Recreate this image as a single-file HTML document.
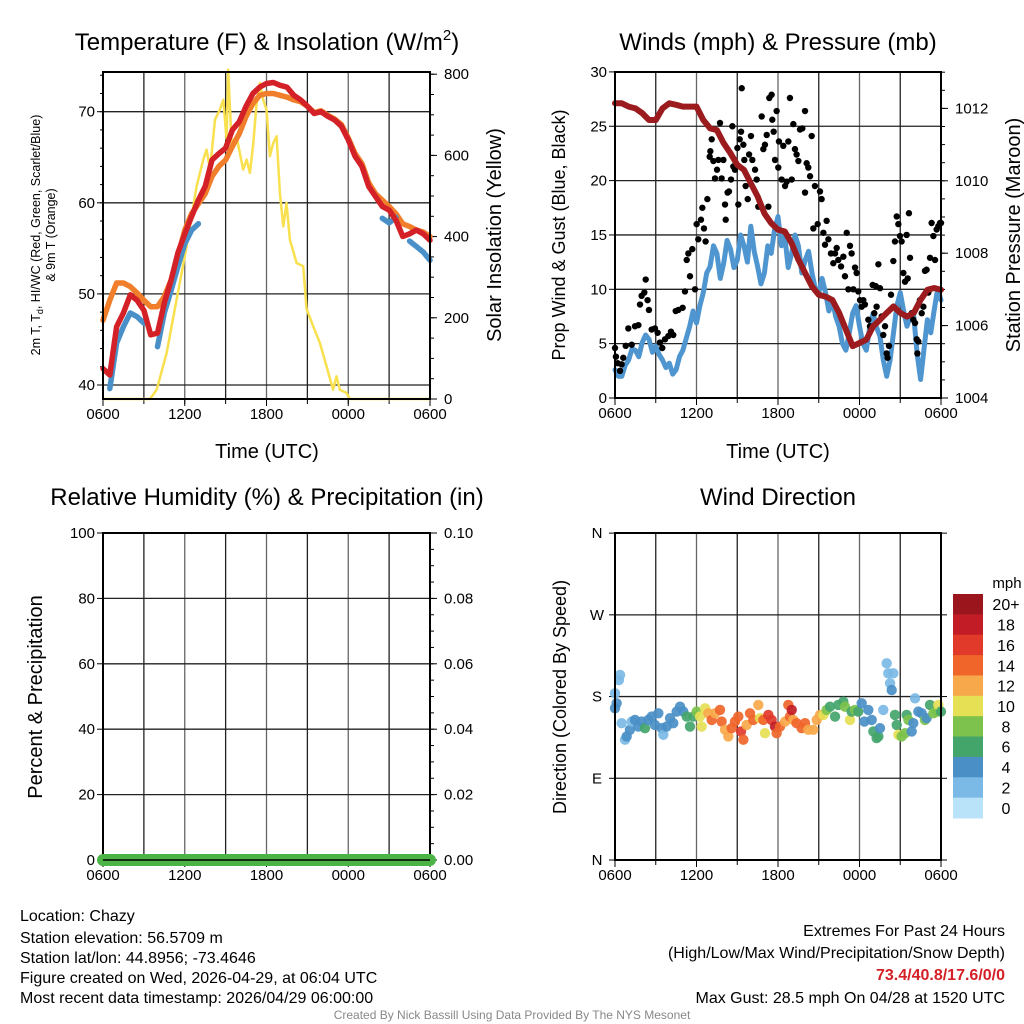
<!DOCTYPE html>
<html><head><meta charset="utf-8"><style>
html,body{margin:0;padding:0;background:#fff}
svg{display:block;font-family:"Liberation Sans",sans-serif}
</style></head><body>
<svg id="fig" width="1024" height="1024" viewBox="0 0 1024 1024" xmlns="http://www.w3.org/2000/svg">
<g font-size="24" text-anchor="middle" fill="#000">
<text x="267" y="50">Temperature (F) &amp; Insolation (W/m<tspan font-size="15" dy="-10">2</tspan><tspan dy="10">)</tspan></text>
<text x="778" y="50">Winds (mph) &amp; Pressure (mb)</text>
<text x="267" y="505">Relative Humidity (%) &amp; Precipitation (in)</text>
<text x="778" y="505">Wind Direction</text>
</g>
<g font-size="20" text-anchor="middle">
<text x="267" y="458">Time (UTC)</text>
<text x="778" y="458">Time (UTC)</text>
<text transform="translate(501,235) rotate(-90)">Solar Insolation (Yellow)</text>
<text transform="translate(565,235) rotate(-90)" font-size="18">Prop Wind &amp; Gust (Blue, Black)</text>
<text transform="translate(1020,235) rotate(-90)">Station Pressure (Maroon)</text>
<text transform="translate(42,697) rotate(-90)">Percent &amp; Precipitation</text>
<text transform="translate(566,697) rotate(-90)" font-size="18">Direction (Colored By Speed)</text>
<text transform="translate(40,235) rotate(-90)" font-size="12.5">2m T, T<tspan font-size="9" dy="3">d</tspan><tspan dy="-3">, HI/WC (Red, Green, Scarlet/Blue)</tspan></text>
<text transform="translate(55,235) rotate(-90)" font-size="12.5">&amp; 9m T (Orange)</text>
</g>
<g id="layer"></g>
<g font-size="16" fill="#000">
<text x="20" y="921">Location: Chazy</text>
<text x="20" y="943">Station elevation: 56.5709 m</text>
<text x="20" y="963">Station lat/lon: 44.8956; -73.4646</text>
<text x="20" y="983">Figure created on Wed, 2026-04-29, at 06:04 UTC</text>
<text x="20" y="1003">Most recent data timestamp: 2026/04/29 06:00:00</text>
<g text-anchor="end">
<text x="1005" y="936">Extremes For Past 24 Hours</text>
<text x="1005" y="958">(High/Low/Max Wind/Precipitation/Snow Depth)</text>
<text x="1005" y="980" fill="#d42027" font-weight="bold">73.4/40.8/17.6/0/0</text>
<text x="1005" y="1003">Max Gust: 28.5 mph On 04/28 at 1520 UTC</text>
</g>
<text x="512" y="1019" text-anchor="middle" font-size="12" fill="#888">Created By Nick Bassill Using Data Provided By The NYS Mesonet</text>
</g>
</svg>
<script>
const halfHours=[0,0.5,1,1.5,2,2.5,3,3.5,4,4.5,5,5.5,6,6.5,7,7.5,8,8.5,9,9.5,10,10.5,11,11.5,12,12.5,13,13.5,14,14.5,15,15.5,16,16.5,17,17.5,18,18.5,19,19.5,20,20.5,21,21.5,22,22.5,23,23.5,24];
const temp2m=[41.8,41.1,46.4,47.9,49.9,49.3,48.2,45.5,45.7,49.0,51.5,54.5,56.6,58.5,60.3,61.8,64.7,65.4,66.0,68.0,68.9,70.6,72.0,72.7,73.1,73.2,72.9,72.7,71.8,71.3,70.6,69.8,70.0,69.5,69.1,68.4,66.9,65.1,64.0,61.8,60.7,59.6,59.2,58.1,56.3,56.6,57.0,56.6,55.9];
const temp9m=[47.1,49.3,51.2,51.2,50.8,50.1,49.3,48.6,48.6,49.7,51.5,54.1,57.0,58.8,59.9,61.0,62.9,64.0,64.7,66.2,67.6,69.5,70.9,71.8,72.0,72.0,71.8,71.6,71.3,71.1,70.6,69.9,70.1,69.6,69.2,68.6,67.1,65.4,64.3,62.2,61.0,60.3,59.6,58.8,57.7,57.4,57.0,56.8,56.3];
const windChill=[null,39.6,44.6,46.4,47.9,47.5,46.8,null,44.2,47.9,50.4,53.0,55.5,57.0,57.7,null,null,null,null,null,null,null,null,null,null,null,null,null,null,null,null,null,null,null,null,null,null,null,null,null,null,58.3,57.8,58.4,null,55.8,55.2,54.6,53.7];
const solarHours=[0,3.45,3.94,4.67,5.40,6.14,6.87,7.36,7.60,7.85,8.22,8.58,8.83,9.07,9.19,9.44,9.80,10.29,10.54,10.78,11.03,11.27,11.52,11.76,12.0,12.25,12.49,12.74,12.98,13.23,13.47,13.72,14.21,14.69,14.94,15.43,15.92,16.41,16.89,17.14,17.38,17.87,18.12,24];
const solar=[0,0,23,113,245,376,524,590,614,565,688,713,737,639,811,630,647,565,590,557,630,729,778,737,713,598,630,647,507,425,483,392,335,327,222,179,138,80,23,56,23,15,0,0];
const pressure=[1012.14,1012.14,1012.05,1012.0,1011.87,1011.68,1011.68,1012.0,1012.14,1012.1,1012.05,1012.05,1012.05,1011.68,1011.45,1011.4,1011.04,1010.76,1010.44,1010.3,1009.93,1009.57,1009.1,1008.83,1008.65,1008.6,1008.28,1007.82,1007.45,1007.08,1006.85,1006.8,1006.71,1006.35,1005.89,1005.43,1005.52,1005.61,1005.98,1006.16,1006.35,1006.53,1006.35,1006.25,1006.35,1006.71,1006.99,1007.04,1006.99];
const windSpeed=[2.6,2.0,2.0,3.0,3.5,4.5,4.4,3.8,5.1,5.8,5.4,4.2,4.8,4.0,3.5,2.8,3.2,2.2,2.6,3.8,4.4,5.5,6.6,8.0,6.9,8.5,9.7,11.5,12.1,14.0,13.3,11.0,12.4,14.5,13.7,12.0,12.7,15.0,14.0,12.5,15.8,13.5,12.1,10.5,11.5,14.0,13.3,15.5,16.7,14.0,14.9,12.0,13.3,15.0,14.0,11.5,12.7,13.5,11.5,10.0,9.7,11.0,9.7,8.0,9.0,7.5,6.6,5.0,4.4,6.0,7.8,8.5,6.6,5.0,4.4,6.5,7.8,6.5,5.7,3.5,2.0,3.5,6.0,8.5,9.7,8.0,6.6,7.5,7.5,4.0,1.7,4.5,7.2,6.0,8.1,10.0,9.0];
const gustHours=[0,0.07,0.2,0.37,0.49,0.61,0.79,0.98,1.23,1.47,1.72,1.84,1.96,2.16,2.26,2.4,2.5,2.7,2.94,3.14,3.31,3.48,3.68,3.93,4.12,4.29,4.47,4.66,4.98,5.15,5.28,5.4,5.52,5.69,5.89,6.01,6.13,6.33,6.43,6.55,6.67,6.8,6.97,7.02,7.12,7.24,7.36,7.51,7.61,7.73,7.85,7.98,8.1,8.15,8.29,8.39,8.54,8.64,8.71,8.83,9.01,9.08,9.18,9.28,9.33,9.45,9.52,9.62,9.77,9.87,10.01,10.11,10.31,10.43,10.55,10.8,10.92,11.04,11.17,11.29,11.36,11.53,11.58,11.68,11.78,11.9,12.02,12.07,12.27,12.39,12.52,12.64,12.76,12.88,13.01,13.13,13.25,13.37,13.5,13.62,13.79,13.99,13.99,14.11,14.23,14.36,14.48,14.6,14.72,14.92,15.09,15.21,15.34,15.46,15.58,15.71,15.9,16.07,16.2,16.32,16.44,16.64,16.81,16.93,17.06,17.18,17.3,17.42,17.55,17.67,17.79,17.91,18.04,18.16,18.28,18.4,18.65,18.77,18.97,19.09,19.19,19.26,19.39,19.51,19.63,19.75,19.88,20.0,20.07,20.17,20.32,20.49,20.61,20.74,20.86,20.98,21.1,21.23,21.35,21.47,21.55,21.64,21.72,21.84,21.96,22.09,22.21,22.26,22.33,22.45,22.58,22.7,22.82,22.94,23.07,23.19,23.31,23.44,23.56,23.68,23.8,23.93,24.0];
const gustMph=[4.6,3.8,3.2,2.5,3.1,3.7,4.8,6.4,4.9,6.6,6.7,8.6,9.4,9.7,10.9,9.0,8.1,6.3,6.4,6.0,5.1,4.6,5.4,5.7,6.1,5.8,8.0,8.1,8.3,9.8,12.7,13.3,11.2,13.7,10.0,16.0,14.6,16.4,17.5,15.6,14.4,18.3,22.2,22.7,23.8,21.8,20.2,21.0,21.9,25.3,20.2,21.9,17.8,16.4,18.9,19.0,20.1,25.0,21.3,21.0,23.0,17.8,23.8,24.5,28.5,23.3,21.9,19.5,18.3,22.4,24.1,21.9,21.0,20.1,17.6,25.9,22.9,23.3,24.2,17.6,27.6,27.9,25.6,24.5,21.9,26.4,21.2,23.6,20.1,23.2,19.5,19.9,23.6,27.6,20.1,25.2,22.9,22.4,21.8,24.7,24.8,26.4,18.9,21.6,21.2,20.4,24.1,15.6,19.5,16.0,19.0,18.3,15.2,14.1,16.3,14.6,13.3,12.4,13.3,13.8,12.7,12.1,13.0,11.2,15.2,10.0,14.0,13.3,10.0,12.0,11.5,9.8,9.0,8.4,9.0,8.6,7.2,6.6,10.4,7.8,10.3,8.4,12.3,10.1,7.5,5.8,6.6,4.1,3.7,4.8,9.5,12.6,14.4,16.7,16.0,14.9,14.4,11.5,10.7,15.0,11.0,17.0,12.9,7.8,7.2,6.9,5.4,4.1,5.2,9.0,7.8,8.4,11.7,11.8,9.7,12.9,16.1,14.9,12.7,15.5,15.8,16.1,16.1];
const dirHours=[0,0.12,0.29,0.37,0,0.49,0.74,0.86,1.1,1.23,1.47,1.72,1.96,2.21,2.45,2.7,2.94,3.19,3.44,3.56,3.8,4.05,4.29,4.54,4.79,5.03,5.28,5.52,5.77,6.01,6.26,6.38,6.63,6.87,7.12,7.36,7.73,7.85,8.1,8.34,8.59,8.83,9.08,9.28,9.45,9.69,9.94,10.18,10.55,10.67,10.92,11.04,11.29,11.53,11.78,11.9,12.15,12.52,12.76,12.88,13.01,13.13,13.37,13.74,13.99,14.23,14.6,14.85,15.09,15.34,15.58,15.83,16.2,16.44,16.81,16.93,17.3,17.42,17.67,17.91,18.16,18.36,18.65,18.9,19.02,19.26,19.39,19.51,19.75,20.0,20.12,20.25,20.37,20.49,20.61,20.74,20.86,21.1,21.35,21.47,21.6,21.84,21.96,22.09,22.33,22.58,22.82,22.94,23.19,23.44,23.68,23.8,24];
const dirDeg=[183.6,172.6,198.2,203.8,167.1,150.7,132.5,136.1,143.4,152.5,154.3,147.0,152.5,145.2,154.3,158.0,148.8,161.6,145.2,137.9,147.0,156.2,150.7,163.4,168.9,163.4,158.0,147.0,158.0,163.4,158.0,147.0,167.1,161.6,154.3,161.6,165.3,152.5,143.4,136.1,145.2,152.5,158.0,141.6,132.5,148.8,161.6,154.3,170.8,156.2,154.3,139.7,159.8,154.3,147.0,139.7,147.0,152.5,170.8,158.0,165.3,154.3,150.7,145.2,150.7,143.4,143.4,154.3,159.8,159.8,165.3,168.9,158.0,170.8,174.4,168.9,154.3,163.4,165.3,163.4,172.6,152.5,165.3,154.3,141.6,134.3,136.1,145.2,165.3,216.6,205.6,194.6,187.2,205.6,159.8,148.8,137.9,136.1,139.7,159.8,154.3,141.6,150.7,178.0,163.4,161.6,154.3,156.2,170.8,161.6,163.4,170.8,163.4];
const dirSpeed=[2,3,2,1,3,2,2,3,4,2,4,4,4,6,4,4,4,4,4,2,4,4,4,4,4,4,6,6,6,8,10,10,10,12,14,12,14,14,12,12,14,14,14,16,14,12,14,14,12,10,14,10,16,16,18,14,14,12,14,14,18,12,14,14,14,12,12,12,12,10,8,6,6,6,6,8,10,6,8,6,4,4,4,4,6,6,6,4,2,2,2,2,4,2,6,6,10,8,8,6,8,4,4,2,4,4,8,4,6,8,8,10,6];
const speedBins=["0","2","4","6","8","10","12","14","16","18","20+"];
const binColors=["#b8e3f8","#7bbae6","#4a8fc6","#44a56b","#7cc24c","#e6e055","#f7a84a","#f0652a","#e13a2b","#c21d26","#9b161c"];
const tempTicks=[40,50,60,70], solarTicks=[0,200,400,600,800];
const windTicks=[0,5,10,15,20,25,30], presTicks=[1004,1006,1008,1010,1012];
const rhTicks=[0,20,40,60,80,100], precipTicks=["0.00","0.02","0.04","0.06","0.08","0.10"];
const dirTicks=[0,90,180,270,360], dirLabels=["N","E","S","W","N"];
const timeLabels=["0600","1200","1800","0000","0600"];
const rhValues=[0,0], precipValues=[0,0];

const NS="http://www.w3.org/2000/svg";
const layer=document.getElementById('layer');
function mk(tag,attrs,parent){const e=document.createElementNS(NS,tag);for(const k in attrs)e.setAttribute(k,attrs[k]);(parent||layer).appendChild(e);return e;}
function txt(x,y,s,anchor,size,parent){const t=mk('text',{x:x,y:y,'text-anchor':anchor,'font-size':size},parent);t.textContent=s;return t;}

const P1={x0:103,x1:430,y0:72,y1:399}, P2={x0:615,x1:941,y0:72,y1:398}, P3={x0:103,x1:430,y0:533,y1:860}, P4={x0:615,x1:941,y0:533,y1:860};
function xs(P,h){return P.x0+h*(P.x1-P.x0)/24;}
const yT=t=>385-(t-40)*9.11, yI=w=>399-w*0.406;
const yW=m=>398-m*10.87, yP=p=>398-(p-1004)*36.2;
const yRH=v=>860-v*3.27, yPr=v=>860-v*3270;
const yD=d=>860-d*0.908;

function frame(P,name){
  const g=mk('g',{});
  
  
  for(let i=1;i<8;i++){const x=xs(P,i*3);const l=mk('line',{x1:x,x2:x,y1:P.y0,y2:P.y1,stroke:i%2?'#222':'#666','stroke-width':1.3},g);
    
    
    mk('line',{x1:x,x2:x,y1:P.y1,y2:P.y1+5,stroke:'#000','stroke-width':1},g);}
  for(let i=0;i<5;i++){const x=xs(P,i*6);const t=txt(x,P.y1+20,timeLabels[i],'middle',15,g);
    
    
    mk('line',{x1:x,x2:x,y1:P.y1,y2:P.y1+7,stroke:'#000','stroke-width':1},g);}
  return g;
}
function border(P,g){mk('rect',{x:P.x0,y:P.y0,width:P.x1-P.x0,height:P.y1-P.y0,fill:'none',stroke:'#000','stroke-width':2},g);}
function hgrid(P,y,g,col){mk('line',{x1:P.x0,x2:P.x1,y1:y,y2:y,stroke:col||'#222','stroke-width':1.3},g);}
function pathFrom(xsArr,ysArr){let d='',pen=false;for(let i=0;i<xsArr.length;i++){if(ysArr[i]==null){pen=false;continue;}d+=(pen?'L':'M')+xsArr[i].toFixed(1)+','+ysArr[i].toFixed(1);pen=true;}return d;}

// Panel 1
const g1=frame(P1,'temperature-panel');
tempTicks.forEach(t=>{hgrid(P1,yT(t),g1);const l=txt(P1.x0-8,yT(t)+5,String(t),'end',15,g1);
  
  
  mk('line',{x1:P1.x0-6,x2:P1.x0,y1:yT(t),y2:yT(t),stroke:'#000'},g1);});
for(let t=40;t<=74;t+=2)mk('line',{x1:P1.x0-3,x2:P1.x0,y1:yT(t),y2:yT(t),stroke:'#000'},g1);
solarTicks.forEach(w=>{const l=txt(P1.x1+14,yI(w)+5,String(w),'start',15,g1);
  
  
  mk('line',{x1:P1.x1,x2:P1.x1+7,y1:yI(w),y2:yI(w),stroke:'#000'},g1);});
for(let w=0;w<=800;w+=50)mk('line',{x1:P1.x1,x2:P1.x1+4,y1:yI(w),y2:yI(w),stroke:'#000'},g1);
const hx1=halfHours.map(h=>xs(P1,h));
let s=mk('path',{d:pathFrom(solarHours.map(h=>xs(P1,h)),solar.map(yI)),fill:'none',stroke:'#f8e04e','stroke-width':2.5,'stroke-linejoin':'round'},g1);


s=mk('path',{d:pathFrom(hx1,temp9m.map(yT)),fill:'none',stroke:'#f07e2b','stroke-width':5.5,'stroke-linejoin':'round','stroke-linecap':'round'},g1);


s=mk('path',{d:pathFrom(hx1,windChill.map(v=>v==null?null:yT(v))),fill:'none',stroke:'#4a90c8','stroke-width':5.5,'stroke-linejoin':'round','stroke-linecap':'round'},g1);


s=mk('path',{d:pathFrom(hx1,temp2m.map(yT)),fill:'none',stroke:'#d42027','stroke-width':5.5,'stroke-linejoin':'round','stroke-linecap':'round'},g1);


border(P1,g1);

// Panel 2
const g2=frame(P2,'winds-panel');
windTicks.forEach(m=>{hgrid(P2,yW(m),g2);const l=txt(P2.x0-8,yW(m)+5,String(m),'end',15,g2);
  
  
  mk('line',{x1:P2.x0-6,x2:P2.x0,y1:yW(m),y2:yW(m),stroke:'#000'},g2);});
presTicks.forEach(p=>{const l=txt(P2.x1+14,yP(p)+5,String(p),'start',15,g2);
  
  
  mk('line',{x1:P2.x1,x2:P2.x1+7,y1:yP(p),y2:yP(p),stroke:'#000'},g2);});
for(let p=1004;p<=1013;p+=0.5)mk('line',{x1:P2.x1,x2:P2.x1+4,y1:yP(p),y2:yP(p),stroke:'#000'},g2);
const hx2=halfHours.map(h=>xs(P2,h));
const qx2=windSpeed.map((v,i)=>xs(P2,i*24/(windSpeed.length-1)));
s=mk('path',{d:pathFrom(qx2,windSpeed.map(yW)),fill:'none',stroke:'#4f96d0','stroke-width':5,'stroke-linejoin':'round','stroke-linecap':'round'},g2);


for(let i=0;i<gustHours.length;i++){const c=mk('circle',{cx:xs(P2,gustHours[i]),cy:yW(gustMph[i]),r:3.2,fill:'#000'},g2);
  
  }
s=mk('path',{d:pathFrom(hx2,pressure.map(yP)),fill:'none',stroke:'#9b1b1e','stroke-width':6,'stroke-linejoin':'round','stroke-linecap':'round'},g2);


border(P2,g2);

// Panel 3
const g3=frame(P3,'humidity-panel');
rhTicks.forEach((v,i)=>{hgrid(P3,yRH(v),g3);const l=txt(P3.x0-8,yRH(v)+5,String(v),'end',15,g3);
  
  
  mk('line',{x1:P3.x0-6,x2:P3.x0,y1:yRH(v),y2:yRH(v),stroke:'#000'},g3);
  const r=txt(P3.x1+14,yRH(v)+5,precipTicks[i],'start',15,g3);
  
  
  mk('line',{x1:P3.x1,x2:P3.x1+7,y1:yRH(v),y2:yRH(v),stroke:'#000'},g3);});
for(let v=0;v<=100;v+=5)mk('line',{x1:P3.x1,x2:P3.x1+4,y1:yRH(v),y2:yRH(v),stroke:'#000'},g3);
border(P3,g3);
s=mk('path',{d:pathFrom([xs(P3,0),xs(P3,24)],precipValues.map(yPr)),fill:'none',stroke:'#4cb447','stroke-width':12,'stroke-linecap':'round'},g3);


s=mk('path',{d:pathFrom([xs(P3,0),xs(P3,24)],rhValues.map(yRH)),fill:'none',stroke:'#000','stroke-width':1.5},g3);



// Panel 4
const g4=frame(P4,'wind-direction-panel');
dirTicks.forEach((d,i)=>{if(i>0&&i<4)hgrid(P4,yD(d),g4);const l=txt(P4.x0-18,yD(d)+5,dirLabels[i],'middle',15,g4);
  
  
  mk('line',{x1:P4.x0-6,x2:P4.x0,y1:yD(d),y2:yD(d),stroke:'#000'},g4);
  mk('line',{x1:P4.x1,x2:P4.x1+6,y1:yD(d),y2:yD(d),stroke:'#000'},g4);});
for(let i=0;i<dirHours.length;i++){const b=Math.min(10,Math.round(dirSpeed[i]/2));
  const c=mk('circle',{cx:xs(P4,dirHours[i]),cy:yD(dirDeg[i]),r:5.2,fill:binColors[b],'fill-opacity':0.92},g4);
  
  }
border(P4,g4);
// colorbar
const cb=mk('g',{});


const cbTop=594,cbH=224/11;
txt(1007,588,'mph','middle',15,cb);
for(let i=0;i<11;i++){const k=10-i;const y=cbTop+i*cbH;
  const r=mk('rect',{x:953,y:y,width:30,height:cbH+0.5,fill:binColors[k]},cb);
  
  
  const t=txt(1006,y+cbH/2+6,speedBins[k],'middle',16,cb);
  
  }
</script>
</body></html>
